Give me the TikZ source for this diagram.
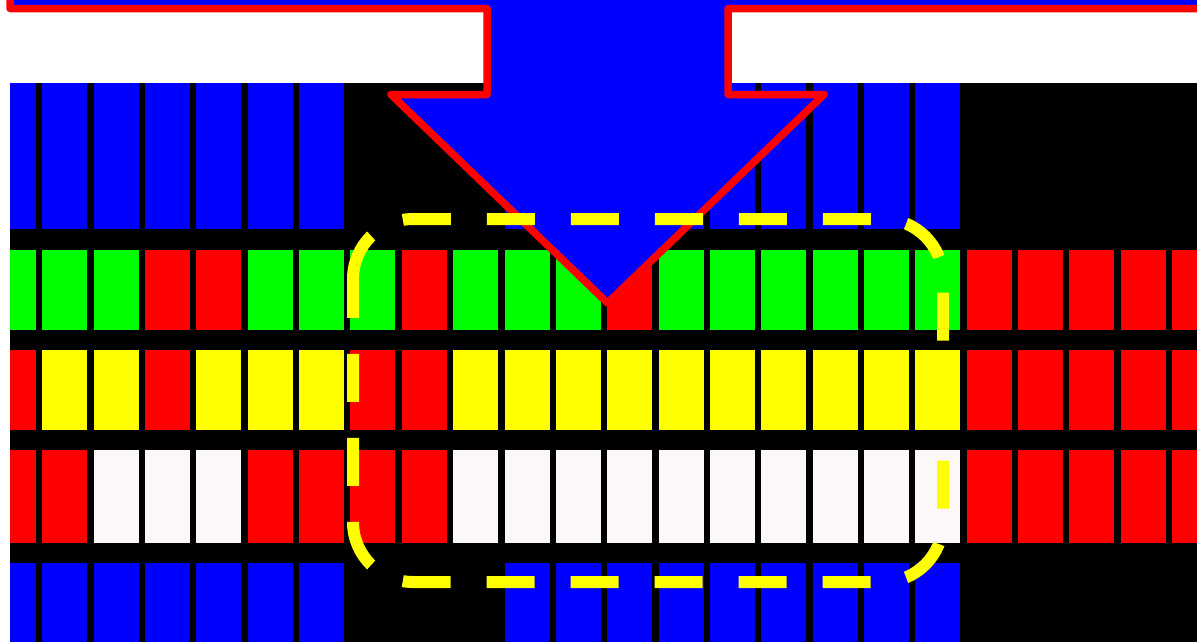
\documentclass[tikz,border=0pt]{standalone}
\usepackage{tikz}
\definecolor{tileblue}{HTML}{0000FF}
\definecolor{tilegreen}{HTML}{00FF00}
\definecolor{tilered}{HTML}{FF0000}
\definecolor{tileyellow}{HTML}{FFFF00}
\definecolor{tilewhite}{HTML}{FCF8F8}
\tikzset{
  pointer/.style={
    fill=tileblue,
    draw=tilered,
    line width=7.5pt,
    line join=round
  },
  focusbox/.style={
    draw=tileyellow,
    line width=12pt,
    dash pattern=on 48pt off 36pt,
    rounded corners=60pt
  }
}

\begin{document}
\begin{tikzpicture}[x=1pt, y=-1pt]
  \useasboundingbox (0,0) rectangle (1197,641);
  \clip (0,0) rectangle (1197,641);
  \fill[white] (0,0) rectangle (1197,641);

  % tile rows
  \begin{scope}
    \clip (10,83) rectangle (1197,645);
    \fill[black] (10,83) rectangle (1197,645);
    \foreach \c [count=\i from 0] in {tileblue,tileblue,tileblue,tileblue,tileblue,tileblue,tileblue,black,black,black,tileblue,tileblue,tileblue,tileblue,tileblue,tileblue,tileblue,tileblue,tileblue,black,black,black,black,black}
      \fill[\c] ({-9+51.35*\i},83) rectangle ++(45,146);
    \foreach \c [count=\i from 0] in {tilegreen,tilegreen,tilegreen,tilered,tilered,tilegreen,tilegreen,tilegreen,tilered,tilegreen,tilegreen,tilegreen,tilered,tilegreen,tilegreen,tilegreen,tilegreen,tilegreen,tilegreen,tilered,tilered,tilered,tilered,tilered}
      \fill[\c] ({-9+51.35*\i},250) rectangle ++(45,79.5);
    \foreach \c [count=\i from 0] in {tilered,tileyellow,tileyellow,tilered,tileyellow,tileyellow,tileyellow,tilered,tilered,tileyellow,tileyellow,tileyellow,tileyellow,tileyellow,tileyellow,tileyellow,tileyellow,tileyellow,tileyellow,tilered,tilered,tilered,tilered,tilered}
      \fill[\c] ({-9+51.35*\i},350) rectangle ++(45,80);
    \foreach \c [count=\i from 0] in {tilered,tilered,tilewhite,tilewhite,tilewhite,tilered,tilered,tilered,tilered,tilewhite,tilewhite,tilewhite,tilewhite,tilewhite,tilewhite,tilewhite,tilewhite,tilewhite,tilewhite,tilered,tilered,tilered,tilered,tilered}
      \fill[\c] ({-9+51.35*\i},450) rectangle ++(45,93);
    \foreach \c [count=\i from 0] in {tileblue,tileblue,tileblue,tileblue,tileblue,tileblue,tileblue,black,black,black,tileblue,tileblue,tileblue,tileblue,tileblue,tileblue,tileblue,tileblue,tileblue,black,black,black,black,black}
      \fill[\c] ({-9+51.35*\i},563) rectangle ++(45,90);
  \end{scope}

  % big arrow
  \draw[pointer] (10,-20) -- (10,8.5) -- (487,8.5) -- (487,94.5) -- (391,94.5)
    -- (607.5,303) -- (824,94.5) -- (728,94.5) -- (728,8.5) -- (1220,8.5) -- (1220,-20) -- cycle;

  % dashed frame
  \draw[focusbox] (353,279) -- (353,219) -- (943,219) -- (943,582) -- (353,582) -- (353,279);
\end{tikzpicture}
\end{document}
